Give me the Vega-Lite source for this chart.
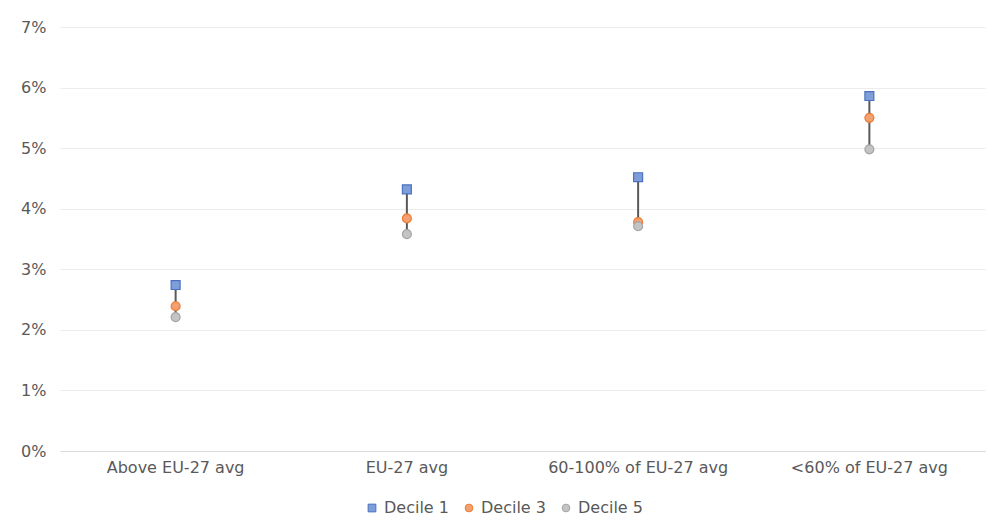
{
  "$schema": "https://vega.github.io/schema/vega-lite/v6.json",
  "width": 925,
  "height": 424,
  "autosize": {"type": "none"},
  "padding": {"left": 60, "top": 27, "right": 3, "bottom": 77},
  "background": "white",
  "data": {
    "values": [
      {"category": "Above EU-27 avg", "decile": "Decile 1", "value": 0.0274},
      {"category": "Above EU-27 avg", "decile": "Decile 3", "value": 0.0239},
      {"category": "Above EU-27 avg", "decile": "Decile 5", "value": 0.0221},
      {"category": "EU-27 avg", "decile": "Decile 1", "value": 0.0432},
      {"category": "EU-27 avg", "decile": "Decile 3", "value": 0.0384},
      {"category": "EU-27 avg", "decile": "Decile 5", "value": 0.0358},
      {"category": "60-100% of EU-27 avg", "decile": "Decile 1", "value": 0.0452},
      {"category": "60-100% of EU-27 avg", "decile": "Decile 3", "value": 0.0378},
      {"category": "60-100% of EU-27 avg", "decile": "Decile 5", "value": 0.0371},
      {"category": "<60% of EU-27 avg", "decile": "Decile 1", "value": 0.0586},
      {"category": "<60% of EU-27 avg", "decile": "Decile 3", "value": 0.0550},
      {"category": "<60% of EU-27 avg", "decile": "Decile 5", "value": 0.0498}
    ]
  },
  "config": {
    "view": {"stroke": null},
    "font": "DejaVu Sans",
    "axis": {"labelColor": "#595959", "labelFontSize": 16, "labelFont": "DejaVu Sans"},
    "legend": {"labelFont": "DejaVu Sans"}
  },
  "encoding": {
    "x": {
      "field": "category",
      "type": "nominal",
      "sort": ["Above EU-27 avg", "EU-27 avg", "60-100% of EU-27 avg", "<60% of EU-27 avg"],
      "scale": {"paddingInner": 0, "paddingOuter": 0},
      "axis": {"title": null, "labelAngle": 0, "ticks": false, "domain": true, "domainColor": "#D9D9D9", "labelPadding": 8, "grid": false}
    }
  },
  "layer": [
    {
      "mark": {"type": "rule", "color": "#595959", "strokeWidth": 2},
      "encoding": {
        "y": {"aggregate": "max", "field": "value", "type": "quantitative",
          "scale": {"domain": [0, 0.07], "nice": false},
          "axis": {"title": null, "format": ".0%", "values": [0, 0.01, 0.02, 0.03, 0.04, 0.05, 0.06, 0.07], "ticks": false, "domain": false, "gridColor": "#ECECEC", "labelPadding": 14}},
        "y2": {"aggregate": "min", "field": "value"}
      }
    },
    {
      "mark": {"type": "point", "filled": false, "size": 80, "strokeWidth": 1.2, "opacity": 1},
      "encoding": {
        "y": {"field": "value", "type": "quantitative", "scale": {"domain": [0, 0.07], "nice": false}},
        "shape": {"field": "decile", "type": "nominal", "scale": {"domain": ["Decile 1", "Decile 3", "Decile 5"], "range": ["square", "circle", "circle"]},
          "legend": {"title": null, "orient": "none", "legendX": 304, "legendY": 473, "direction": "horizontal", "labelFontSize": 16, "labelColor": "#595959", "symbolSize": 60, "columnPadding": 12, "labelOffset": 4, "symbolStrokeWidth": 1}},
        "fill": {"field": "decile", "type": "nominal", "scale": {"domain": ["Decile 1", "Decile 3", "Decile 5"], "range": ["#7E9EDA", "#F4A070", "#C4C4C4"]},
          "legend": {"title": null, "orient": "none", "legendX": 304, "legendY": 473, "direction": "horizontal", "labelFontSize": 16, "labelColor": "#595959", "symbolSize": 60, "columnPadding": 12, "labelOffset": 4, "symbolStrokeWidth": 1}},
        "stroke": {"field": "decile", "type": "nominal", "scale": {"domain": ["Decile 1", "Decile 3", "Decile 5"], "range": ["#4A72C0", "#EC7C33", "#A5A5A5"]},
          "legend": {"title": null, "orient": "none", "legendX": 304, "legendY": 473, "direction": "horizontal", "labelFontSize": 16, "labelColor": "#595959", "symbolSize": 60, "columnPadding": 12, "labelOffset": 4, "symbolStrokeWidth": 1}}
      }
    }
  ]
}
